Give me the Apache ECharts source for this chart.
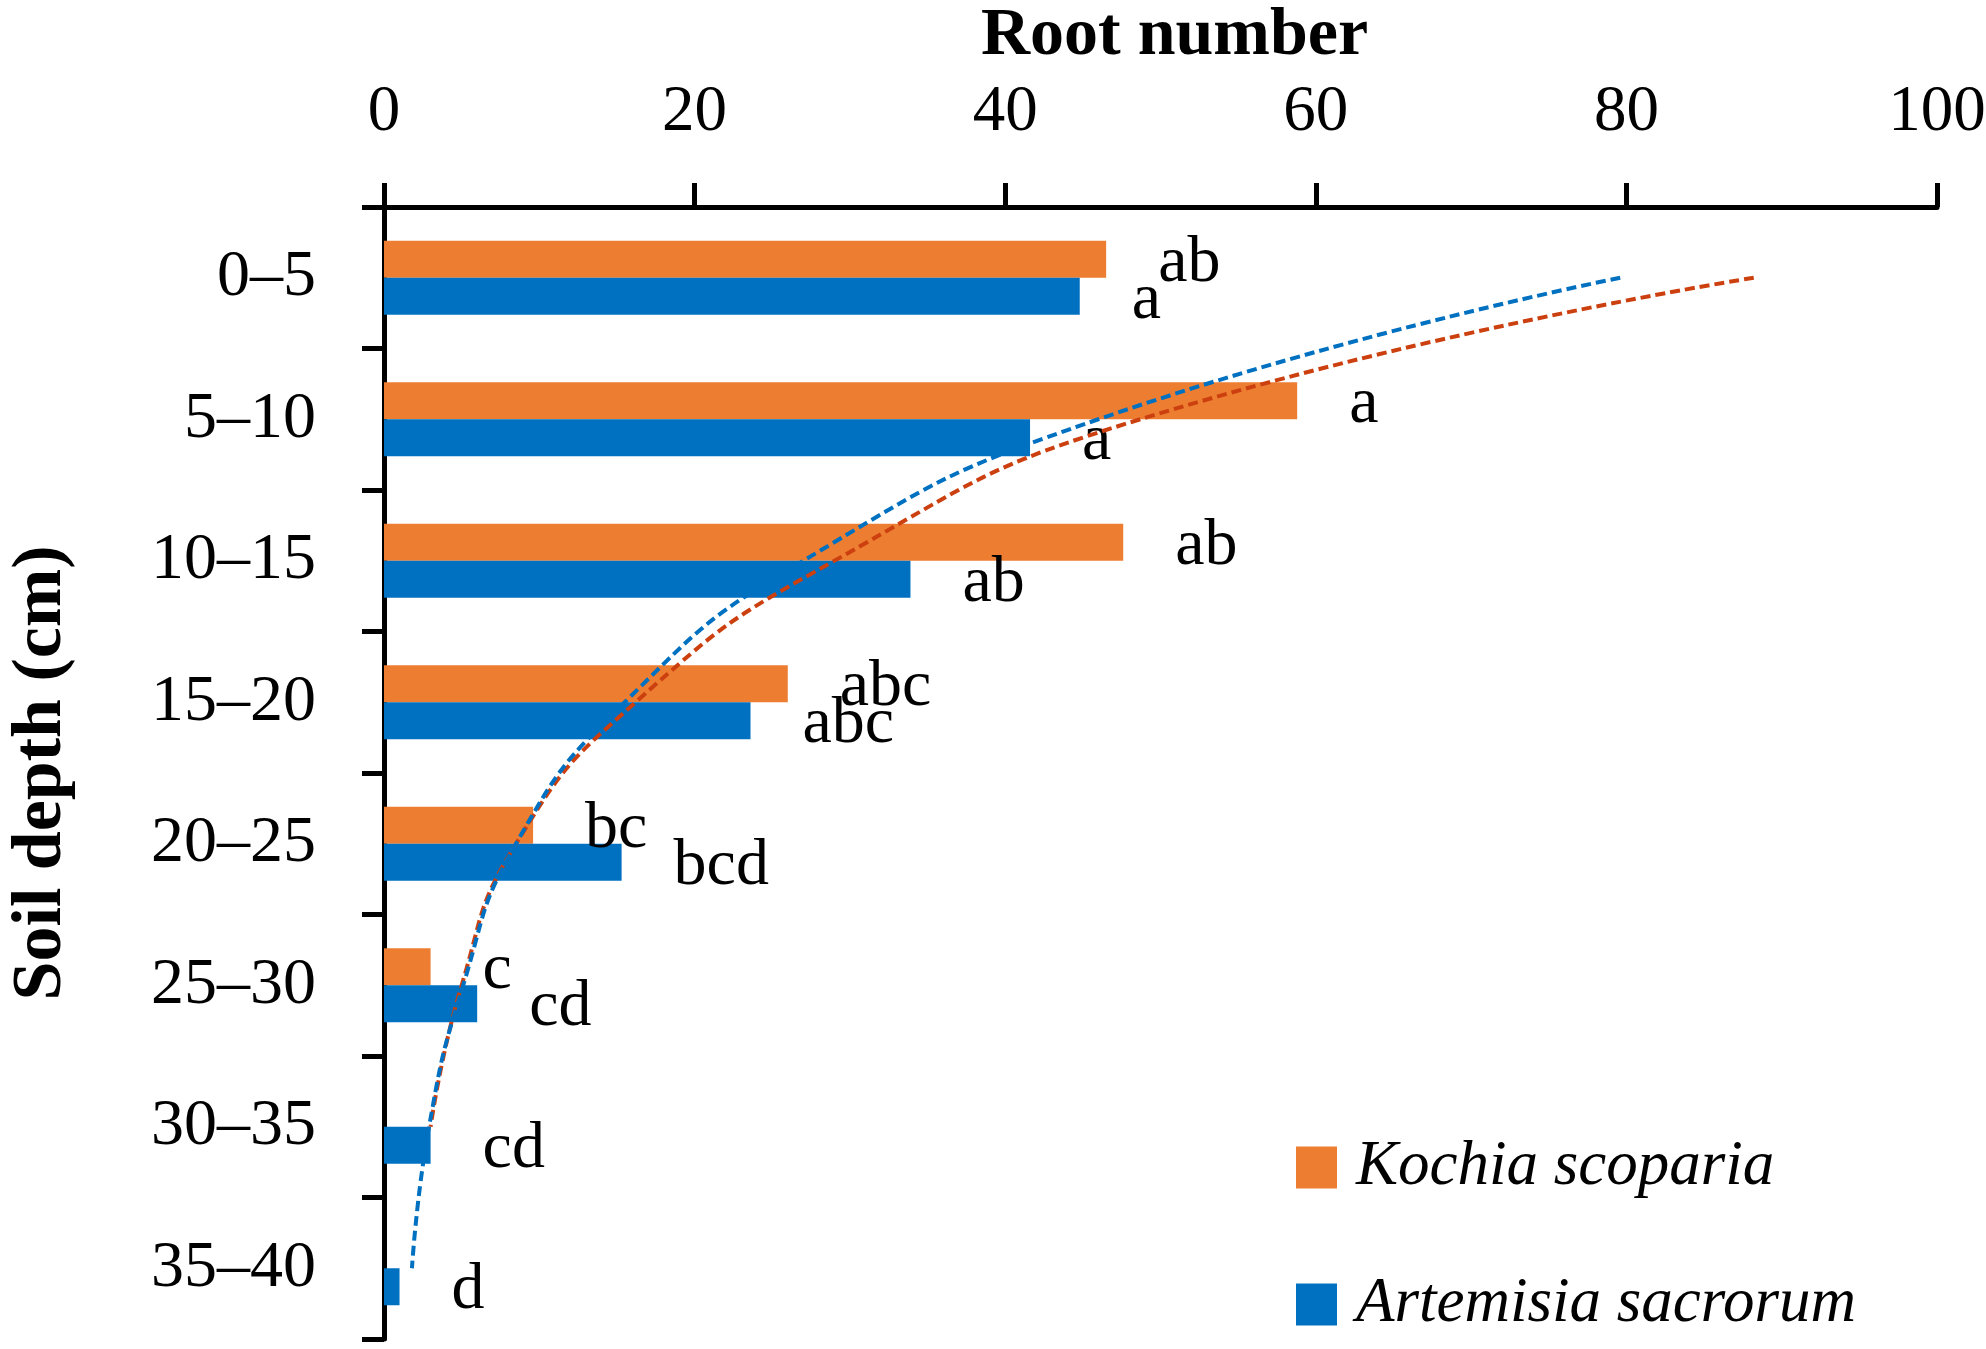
<!DOCTYPE html>
<html><head><meta charset="utf-8">
<script src="https://cdn.jsdelivr.net/npm/echarts@6/dist/echarts.min.js"></script>
<style>html,body{margin:0;padding:0;background:#fff}#c{width:1986px;height:1349px}</style>
</head><body><div id="c"></div>
<script>
const depths = ['0–5','5–10','10–15','15–20','20–25','25–30','30–35','35–40'];
const kochia = [46.5, 58.8, 47.6, 26.0, 9.6, 3.0, 0, 0];
const artemisia = [44.8, 41.6, 33.9, 23.6, 15.3, 6.0, 3.0, 1.0];
const kochiaLetters = ['ab','a','ab','abc','bc','c','',''];
const artemisiaLetters = ['a','a','ab','abc','bcd','cd','cd','d'];
const xMin = 0, xMax = 100, xStep = 20;
// trend curves: [root number, depth position (category centre = index + 0.5)]
const kochiaTrend = [[88.2,0.5],[48.7,1.5],[29.0,2.5],[16.2,3.5],[8.5,4.5],[5.0,5.5],[3.0,6.5]];
const artemisiaTrend = [[79.6,0.5],[46.0,1.5],[27.0,2.5],[15.5,3.5],[8.5,4.5],[5.1,5.5],[2.9,6.5],[1.8,7.5]];

const FONT = 'Liberation Serif';
const ORANGE = '#ED7D31', BLUE = '#0070C0';
const chart = echarts.init(document.getElementById('c'), null, {renderer:'canvas'});
const letterLabel = (letters) => ({
  show: true, position: 'right', distance: 52, offset: [0, 4],
  fontFamily: FONT, fontSize: 66, color: '#000',
  formatter: p => letters[p.dataIndex]
});
const legendBase = {
  orient: 'vertical', left: 1291, itemWidth: 41, itemHeight: 42, icon: 'rect',
  textStyle: {fontFamily: FONT, fontStyle: 'italic', fontSize: 63, color: '#000', padding: [0,0,0,14]}
};
chart.setOption({
  animation: false,
  backgroundColor: '#fff',
  grid: {left: 384, right: 49, top: 207, bottom: 10, containLabel: false, outerBoundsMode: 'none'},
  legend: [
    Object.assign({}, legendBase, {top: 1131, data: ['Kochia scoparia']}),
    Object.assign({}, legendBase, {top: 1268, data: ['Artemisia sacrorum']})
  ],
  xAxis: {
    type: 'value', position: 'top', min: xMin, max: xMax, interval: xStep,
    name: 'Root number', nameLocation: 'middle', nameGap: 137,
    nameTextStyle: {fontFamily: FONT, fontWeight: 'bold', fontSize: 68, color: '#000', padding: [0,0,0,28]},
    axisLine: {show: true, lineStyle: {color: '#000', width: 5}},
    axisTick: {show: true, inside: false, length: 24, lineStyle: {color: '#000', width: 5}},
    axisLabel: {fontFamily: FONT, fontSize: 65, color: '#000', margin: 62},
    splitLine: {show: false}
  },
  yAxis: [{
    type: 'category', data: depths, inverse: true,
    name: 'Soil depth (cm)', nameLocation: 'middle', nameGap: 307, nameRotate: 90,
    nameTextStyle: {fontFamily: FONT, fontWeight: 'bold', fontSize: 70, color: '#000'},
    axisLine: {show: true, lineStyle: {color: '#000', width: 5}},
    axisTick: {show: true, inside: false, length: 22, lineStyle: {color: '#000', width: 5}},
    axisLabel: {fontFamily: FONT, fontSize: 66, color: '#000', margin: 68},
    splitLine: {show: false}
  }, {
    type: 'value', min: 0, max: depths.length, inverse: true, show: false
  }],
  series: [
    {name: 'Kochia scoparia', type: 'bar', data: kochia, barWidth: 37, barGap: '0%',
     itemStyle: {color: ORANGE}, label: letterLabel(kochiaLetters)},
    {name: 'Artemisia sacrorum', type: 'bar', data: artemisia, barWidth: 37, barGap: '0%',
     itemStyle: {color: BLUE}, label: letterLabel(artemisiaLetters)},
    {name: 'Kochia trend', type: 'line', yAxisIndex: 1, data: kochiaTrend, smooth: true, symbol: 'none',
     lineStyle: {color: '#CC4010', width: 4, type: [10, 5]}, z: 5},
    {name: 'Artemisia trend', type: 'line', yAxisIndex: 1, data: artemisiaTrend, smooth: true, symbol: 'none',
     lineStyle: {color: BLUE, width: 4, type: [10, 5]}, z: 6}
  ]
});
</script></body></html>
